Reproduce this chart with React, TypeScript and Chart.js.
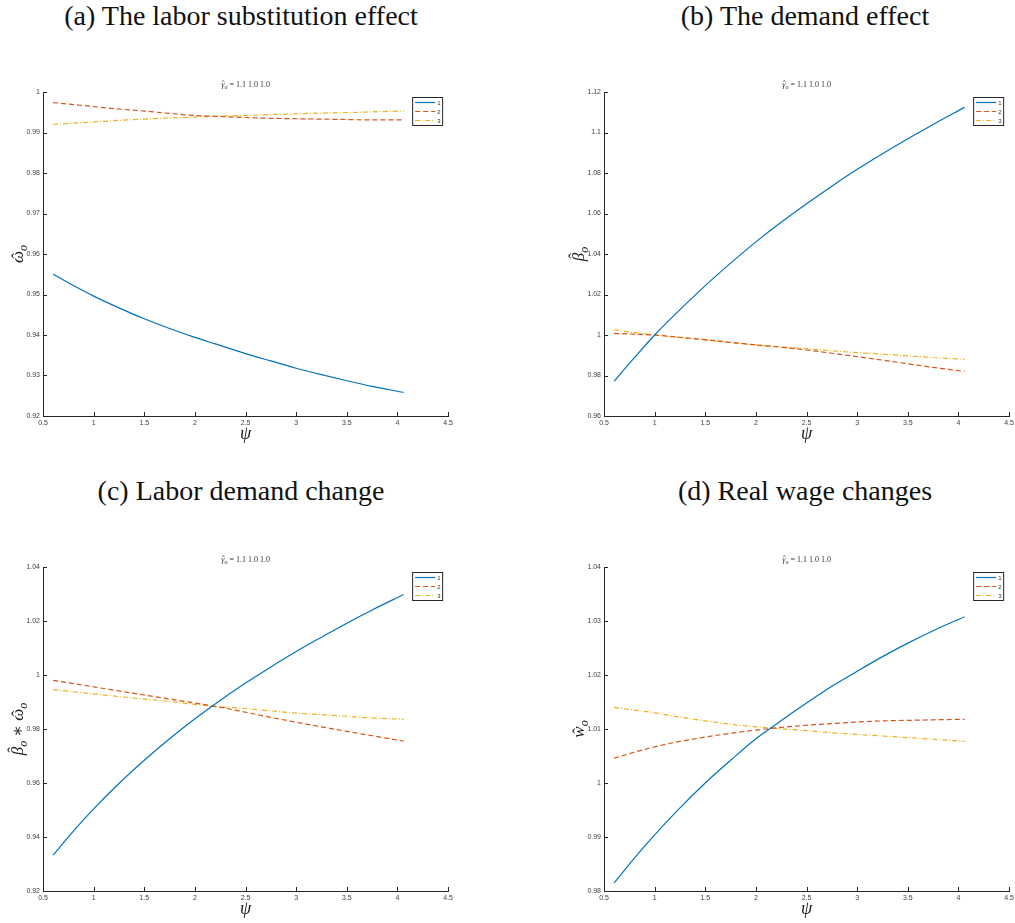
import React, { useEffect, useRef } from 'react';
import { Chart, registerables } from 'chart.js';

Chart.register(...registerables);

// ---------------- data ----------------
const psi = [0.6, 0.8, 1.0, 1.25, 1.5, 1.75, 2.0, 2.2, 2.5, 2.75, 3.0, 3.25, 3.5, 3.75, 4.06];

const legendLabels = ['1', '2', '3'];
const subtitleValues = '1.1 1.0 1.0';

// (a) labor substitution effect
const subst1 = [0.955, 0.9522, 0.9496, 0.9467, 0.944, 0.9416, 0.9394, 0.9378, 0.9354, 0.9336, 0.9318, 0.9302, 0.9287, 0.9273, 0.9258];
const subst2 = [0.9974, 0.9969, 0.9964, 0.9958, 0.9953, 0.9947, 0.9942, 0.994, 0.9937, 0.9935, 0.9934, 0.9933, 0.9932, 0.9931, 0.9931];
const subst3 = [0.992, 0.9923, 0.9926, 0.993, 0.9933, 0.9936, 0.9938, 0.994, 0.9942, 0.9944, 0.9946, 0.9948, 0.9949, 0.9951, 0.9953];

// (b) demand effect
const demand1 = [0.9772, 0.9888, 1.0, 1.0125, 1.0244, 1.0355, 1.046, 1.0538, 1.0648, 1.0735, 1.0818, 1.0895, 1.0969, 1.104, 1.1124];
const demand2 = [1.0008, 1.0004, 1.0, 0.9989, 0.9977, 0.9964, 0.9951, 0.9942, 0.9926, 0.991, 0.9893, 0.9876, 0.9858, 0.984, 0.982];
const demand3 = [1.0026, 1.0012, 1.0, 0.9987, 0.9975, 0.9962, 0.9951, 0.9943, 0.9932, 0.9922, 0.9913, 0.9905, 0.9897, 0.9889, 0.988];

// (c) labor demand change
const labor1 = [0.9333, 0.9422, 0.9504, 0.9598, 0.9684, 0.9764, 0.9838, 0.9893, 0.997, 1.003, 1.0087, 1.014, 1.0192, 1.0241, 1.0298];
const labor2 = [0.998, 0.9968, 0.9956, 0.9941, 0.9926, 0.9911, 0.9896, 0.9884, 0.9862, 0.9843, 0.9825, 0.9808, 0.9791, 0.9775, 0.9755];
const labor3 = [0.9946, 0.9938, 0.993, 0.992, 0.9911, 0.9902, 0.9891, 0.9883, 0.9876, 0.9867, 0.9859, 0.9853, 0.9847, 0.9841, 0.9836];

// (d) real wage changes
const wage1 = [0.9815, 0.9861, 0.9904, 0.9954, 1.0, 1.0042, 1.0082, 1.0109, 1.0148, 1.0179, 1.0207, 1.0234, 1.0259, 1.0282, 1.0308];
const wage2 = [1.0046, 1.0057, 1.0067, 1.0077, 1.0085, 1.0092, 1.0098, 1.0102, 1.0107, 1.011, 1.0113, 1.0115, 1.0116, 1.0117, 1.0118];
const wage3 = [1.014, 1.0135, 1.013, 1.0122, 1.0115, 1.0109, 1.0104, 1.0101, 1.0097, 1.0093, 1.009, 1.0087, 1.0084, 1.0081, 1.0077];

// ---------------- styles ----------------
const COLORS = ['#0072BD', '#D95319', '#EDB120'];
const DASHES: number[][] = [[], [5, 3], [5, 2, 1, 2]];
const SERIF = '"Liberation Serif", "DejaVu Serif", serif';
const SANS = '"Liberation Sans", Arial, sans-serif';
const AXIS = '#262626';

type Seg = { t: string; italic?: boolean; sub?: boolean; hat?: number };

function drawRich(ctx: CanvasRenderingContext2D, segs: Seg[], x: number, y: number, size: number) {
  const fontOf = (s: Seg) => `${s.italic ? 'italic ' : ''}${s.sub ? Math.round(size * 0.7) : size}px ${SERIF}`;
  let total = 0;
  const widths = segs.map((s) => {
    ctx.font = fontOf(s);
    const w = ctx.measureText(s.t).width;
    total += w;
    return w;
  });
  let cx = x - total / 2;
  ctx.textAlign = 'left';
  ctx.textBaseline = 'alphabetic';
  segs.forEach((s, i) => {
    ctx.font = fontOf(s);
    const yy = y + (s.sub ? size * 0.22 : 0);
    ctx.fillText(s.t, cx, yy);
    if (s.hat !== undefined) {
      ctx.font = `${size}px ${SERIF}`;
      const hw = ctx.measureText('\u02C6').width;
      ctx.fillText('\u02C6', cx + widths[i] / 2 - hw / 2 + size * 0.06, yy - size * s.hat);
    }
    cx += widths[i];
  });
}

type PanelDef = {
  title: string;
  ox: number;
  oy: number;
  titleCx: number;
  yMin: number;
  yMax: number;
  yStep: number;
  yLabel: Seg[];
  series: number[][];
};

const panels: PanelDef[] = [
  {
    title: '(a) The labor substitution effect', ox: 0, oy: 0, titleCx: 241,
    yMin: 0.92, yMax: 1.0, yStep: 0.01,
    yLabel: [{ t: 'ω', italic: true, hat: 0 }, { t: 'o', italic: true, sub: true }],
    series: [subst1, subst2, subst3],
  },
  {
    title: '(b) The demand effect', ox: 561, oy: 0, titleCx: 805,
    yMin: 0.96, yMax: 1.12, yStep: 0.02,
    yLabel: [{ t: 'β', italic: true, hat: 0.25 }, { t: 'o', italic: true, sub: true }],
    series: [demand1, demand2, demand3],
  },
  {
    title: '(c) Labor demand change', ox: 0, oy: 475, titleCx: 241,
    yMin: 0.92, yMax: 1.04, yStep: 0.02,
    yLabel: [
      { t: 'β', italic: true, hat: 0.25 }, { t: 'o', italic: true, sub: true },
      { t: ' ∗ ' },
      { t: 'ω', italic: true, hat: 0 }, { t: 'o', italic: true, sub: true },
    ],
    series: [labor1, labor2, labor3],
  },
  {
    title: '(d) Real wage changes', ox: 561, oy: 475, titleCx: 805,
    yMin: 0.98, yMax: 1.04, yStep: 0.01,
    yLabel: [{ t: 'w', italic: true, hat: 0 }, { t: 'o', italic: true, sub: true }],
    series: [wage1, wage2, wage3],
  },
];

const fmt = (v: number | string) => String(Number(Number(v).toFixed(4)));

function makeDecor(def: PanelDef) {
  return {
    id: 'decor',
    afterDraw(chart: any) {
      const ctx: CanvasRenderingContext2D = chart.ctx;
      const ca = chart.chartArea;
      const xs = chart.scales.x;
      const ys = chart.scales.y;
      ctx.save();
      // inward tick marks
      ctx.strokeStyle = AXIS;
      ctx.lineWidth = 1;
      ctx.setLineDash([]);
      ctx.beginPath();
      xs.ticks.forEach((t: any) => {
        const px = Math.round(xs.getPixelForValue(t.value)) + 0.5;
        ctx.moveTo(px, ca.bottom);
        ctx.lineTo(px, ca.bottom - 4);
      });
      ys.ticks.forEach((t: any) => {
        const py = Math.round(ys.getPixelForValue(t.value)) + 0.5;
        ctx.moveTo(ca.left, py);
        ctx.lineTo(ca.left + 4, py);
      });
      ctx.stroke();

      // subtitle
      ctx.fillStyle = '#333';
      drawRich(
        ctx,
        [{ t: 'γ', italic: true, hat: 0 }, { t: 'o', italic: true, sub: true }, { t: ' = ' + subtitleValues }],
        (ca.left + ca.right) / 2,
        ca.top - 5,
        8,
      );

      // x title
      ctx.fillStyle = '#222';
      drawRich(ctx, [{ t: 'ψ', italic: true }], (ca.left + ca.right) / 2, ca.bottom + 23, 18);

      // y title
      ctx.save();
      ctx.translate(ca.left - 20, (ca.top + ca.bottom) / 2);
      ctx.rotate(-Math.PI / 2);
      drawRich(ctx, def.yLabel, 0, 0, 17);
      ctx.restore();

      // legend
      const bx = ca.right - 36;
      const by = ca.top + 5;
      const bw = 30;
      const bh = 28;
      ctx.fillStyle = '#fff';
      ctx.fillRect(bx, by, bw, bh);
      ctx.strokeStyle = AXIS;
      ctx.lineWidth = 1;
      ctx.strokeRect(bx + 0.5, by + 0.5, bw, bh);
      legendLabels.forEach((lab, i) => {
        const ly = by + 5.5 + i * 9;
        ctx.strokeStyle = COLORS[i];
        ctx.lineWidth = 1.2;
        ctx.setLineDash(DASHES[i]);
        ctx.beginPath();
        ctx.moveTo(bx + 3, ly);
        ctx.lineTo(bx + 23, ly);
        ctx.stroke();
        ctx.setLineDash([]);
        ctx.fillStyle = '#333';
        ctx.font = `6px ${SANS}`;
        ctx.textAlign = 'left';
        ctx.textBaseline = 'middle';
        ctx.fillText(lab, bx + 25, ly + 0.5);
      });
      ctx.restore();
    },
  };
}

const CW = 456;
const CH = 410;

function Panel({ def }: { def: PanelDef }) {
  const ref = useRef<HTMLCanvasElement>(null);
  useEffect(() => {
    const canvas = ref.current;
    if (!canvas) return;
    const tickFont = { family: SANS, size: 7 };
    const chart = new Chart(canvas, {
      type: 'line',
      data: {
        datasets: def.series.map((s, i) => ({
          label: legendLabels[i],
          data: psi.map((x, j) => ({ x, y: s[j] })),
          borderColor: COLORS[i],
          backgroundColor: COLORS[i],
          borderWidth: 1.2,
          borderDash: DASHES[i],
          pointRadius: 0,
          fill: false,
          cubicInterpolationMode: 'monotone' as const,
        })),
      },
      options: {
        animation: false,
        responsive: false,
        maintainAspectRatio: false,
        events: [],
        layout: { padding: { top: 42, right: 7, left: 0, bottom: 0 } },
        plugins: {
          legend: { display: false },
          tooltip: { enabled: false },
          title: { display: false },
        },
        scales: {
          x: {
            type: 'linear',
            min: 0.5,
            max: 4.5,
            ticks: {
              stepSize: 0.5,
              padding: 3,
              font: tickFont,
              color: '#404040',
              maxRotation: 0,
              autoSkip: false,
              callback: (v: any) => fmt(v),
            },
            grid: { display: false, drawTicks: false },
            border: { display: true, color: AXIS, width: 1 },
            afterFit: (s: any) => {
              s.height = 44;
            },
          },
          y: {
            type: 'linear',
            min: def.yMin,
            max: def.yMax,
            ticks: {
              stepSize: def.yStep,
              padding: 3,
              font: tickFont,
              color: '#404040',
              autoSkip: false,
              callback: (v: any) => fmt(v),
            },
            grid: { display: false, drawTicks: false },
            border: { display: true, color: AXIS, width: 1 },
            afterFit: (s: any) => {
              s.width = 43;
            },
          },
        },
      } as any,
      plugins: [makeDecor(def)],
    });
    return () => chart.destroy();
  }, [def]);

  return (
    <>
      <div
        style={{
          position: 'absolute',
          left: def.titleCx - 250,
          width: 500,
          top: def.oy + 2,
          textAlign: 'center',
          fontFamily: SERIF,
          fontSize: 28,
          lineHeight: '28px',
          color: '#111',
          whiteSpace: 'nowrap',
        }}
      >
        {def.title}
      </div>
      <canvas
        ref={ref}
        width={CW}
        height={CH}
        style={{ position: 'absolute', left: def.ox, top: def.oy + 50, width: CW, height: CH }}
      />
    </>
  );
}

export default function App() {
  return (
    <div
      style={{
        position: 'absolute',
        left: 0,
        top: 0,
        width: 1015,
        height: 923,
        overflow: 'hidden',
        background: '#fff',
      }}
    >
      {panels.map((p) => (
        <Panel key={p.title} def={p} />
      ))}
    </div>
  );
}
